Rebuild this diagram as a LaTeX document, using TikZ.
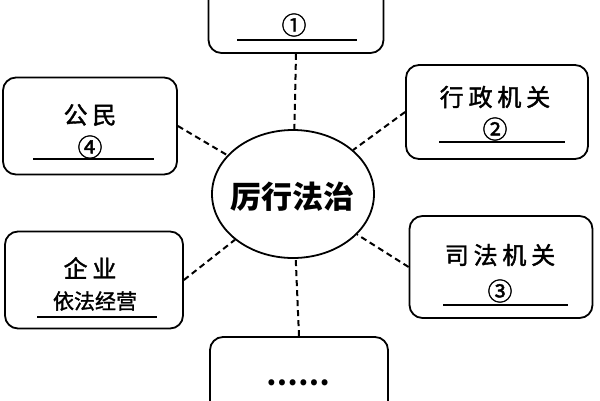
\documentclass[tikz,border=0pt]{standalone}
\usepackage{fontspec}
\usepackage{tikz}
\usetikzlibrary{shapes.geometric}
\newfontfamily\cjk[LetterSpace=20,FakeBold=1.6]{Noto Sans CJK SC}
\newfontfamily\cjkn[FakeBold=1.4]{Noto Sans CJK SC}
\newfontfamily\cjkc{Noto Sans CJK SC}

\tikzset{
	box/.style={draw, line width=1.8pt, rounded corners=13pt, inner sep=0pt},
	link/.style={line width=2pt, dash pattern=on 6pt off 4pt},
	lbl/.style={font=\cjk\fontsize{24}{24}\selectfont},
	num/.style={font=\cjkn\fontsize{25}{25}\selectfont},
	uline/.style={line width=1.8pt}
}

\begin{document}
\begin{tikzpicture}[x=1pt,y=-1pt]
	\useasboundingbox[fill=white] (0,0) rectangle (600,400);

	% centre
	\node[ellipse, draw, line width=1.8pt, minimum width=162pt, minimum height=128pt, inner sep=0pt] (core) at (293,194){};
	\node[font=\cjkc\bfseries\fontsize{31}{31}\selectfont] (coretext) at (292,197){厉行法治};

	% boxes
	\node[box, minimum width=175pt, minimum height=82pt] (top) at (296,12){};
	\node[box, minimum width=182pt, minimum height=94pt] (admin) at (497,112){};
	\node[box, minimum width=183pt, minimum height=102pt] (court) at (501,267){};
	\node[box, minimum width=174pt, minimum height=97pt] (citizen) at (90,126){};
	\node[box, minimum width=178pt, minimum height=97pt] (firm) at (94,280){};
	\node[box, minimum width=178pt, minimum height=92pt] (more) at (299,383){};

	% links
	\draw[link] (top.south) -- (core);
	\draw[link] (admin.west) -- (core);
	\draw[link] (court.west) -- (core);
	\draw[link] (citizen.east) -- (core);
	\draw[link] (firm.east) -- (core);
	\draw[link] (more.north) -- (core);

	% texts
	\node[lbl] (toptext) at (296,-12){立法机关};
	\node[num] (n1) at (294,25){①};
	\draw[uline] (237,40) -- (357,40);

	\node[lbl] (admintext) at (495,97){行政机关};
	\node[num] (n2) at (495,129){②};
	\draw[uline] (439,142) -- (565,142);

	\node[lbl] (courttext) at (500,255){司法机关};
	\node[num] (n3) at (500,291){③};
	\draw[uline] (443,305) -- (568,305);

	\node[lbl] (citizentext) at (90,115){公民};
	\node[num] (n4) at (90,147){④};
	\draw[uline] (33,159) -- (154,159);

	\node[lbl] (firmtext) at (90,268){企业};
	\node[font=\cjkn\fontsize{21}{21}\selectfont] (firmgoal) at (95,301){依法经营};
	\draw[uline] (37,317) -- (157,317);

	\node[font=\cjkc\bfseries\fontsize{28}{28}\selectfont] (dots) at (298,383){……};
\end{tikzpicture}
\end{document}
